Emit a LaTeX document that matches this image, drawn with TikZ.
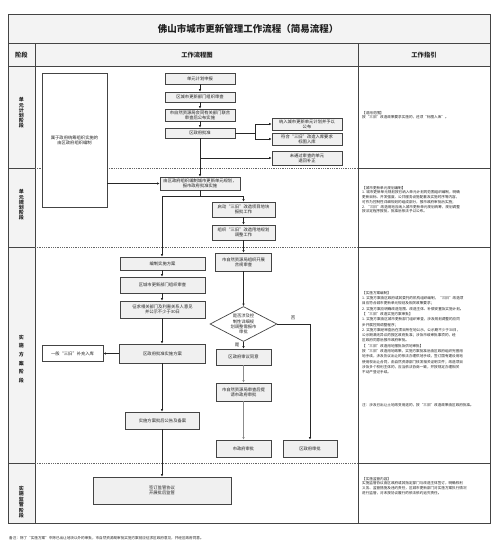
\documentclass[tikz,border=0pt]{standalone}
\usepackage{fontspec}
\setmainfont{Noto Sans CJK SC}
\usetikzlibrary{arrows.meta,shapes.geometric}
\definecolor{ln}{HTML}{444444}
\definecolor{bx}{HTML}{F0F0F0}
\definecolor{hd}{HTML}{F3F3F3}
\definecolor{tx}{HTML}{222222}
\tikzset{
 fbox/.style={draw=ln, fill=bx, line width=0.7pt, inner sep=0pt, align=center, font=\fontsize{4.3}{5.2}\selectfont, text=tx},
 wbox/.style={fbox, fill=white},
 arr/.style={draw=black!85, line width=0.5pt, -{Latex[length=2.6pt,width=2.4pt]}},
 garr/.style={draw=black!45, line width=0.5pt, -{Latex[length=2.6pt,width=2.4pt]}},
 conn/.style={draw=black!85, line width=0.5pt},
 sepline/.style={draw=black!60, line width=0.6pt, dash pattern=on 1pt off 0.8pt},
 gtext/.style={anchor=north west, inner sep=0pt, align=left, font=\fontsize{3.6}{4.7}\selectfont, text=tx},
 stg/.style={inner sep=0pt, align=center, text=tx},
 lbl/.style={inner sep=0pt, font=\fontsize{4.5}{5}\selectfont, text=tx},
}
\begin{document}
\begin{tikzpicture}[x=1pt,y=-1pt]
\useasboundingbox (0,0) rectangle (499,554);
\fill[white] (0,0) rectangle (499,554);
% table backgrounds
\fill[hd] (8,14) rectangle (490,66);
\fill[hd] (8,66) rectangle (35,523);
% table lines
\draw[ln, line width=0.7pt] (8,43) -- (490,43);
\draw[ln, line width=0.7pt] (8,66) -- (490,66);
\draw[ln, line width=1pt] (35,43) -- (35,523);
\draw[ln, line width=0.7pt] (358,43) -- (358,523);
\foreach \yy in {168,247,463}{
  \draw[ln, line width=1pt] (8,\yy) -- (35,\yy);
  \draw[ln, line width=0.7pt] (358,\yy) -- (490,\yy);
  \draw[sepline] (35,\yy) -- (358,\yy);
}
\draw[ln, line width=1pt] (8,14) rectangle (490,523);

% title and headers
\node[stg, font=\bfseries\fontsize{9.5}{10}\selectfont] (title) at (248,29) {佛山市城市更新管理工作流程（简易流程）};
\node[stg, font=\bfseries\fontsize{6.3}{7}\selectfont] (h1) at (21.5,55) {阶段};
\node[stg, font=\bfseries\fontsize{6.3}{7}\selectfont] (h2) at (197,55) {工作流程图};
\node[stg, font=\bfseries\fontsize{6.3}{7}\selectfont] (h3) at (424,55) {工作指引};

% stage labels
\node[stg, font=\bfseries\fontsize{5}{5.2}\selectfont] (s1) at (21.5,113) {单\\元\\计\\划\\阶\\段};
\node[stg, font=\bfseries\fontsize{5}{5.2}\selectfont] (s2) at (21.5,205) {单\\元\\规\\划\\阶\\段};
\node[stg, font=\bfseries\fontsize{5}{8.7}\selectfont] (s3) at (21.5,359) {实\\施\\方\\案\\阶\\段};
\node[stg, font=\bfseries\fontsize{5}{5.4}\selectfont] (s4) at (21.5,502) {实\\施\\监\\管\\阶\\段};

% stage 1 boxes
\node[wbox, minimum width=65pt, minimum height=134pt] (L0) at (74.5,140) {属于政府统筹组织实施的\\由区政府组织编制};
\node[fbox, minimum width=70pt, minimum height=11pt] (B1) at (200,78.5) {单元计划申报};
\node[fbox, minimum width=70pt, minimum height=10pt] (B2) at (200,97) {区城市更新部门组织审查};
\node[fbox, minimum width=70pt, minimum height=12pt] (B3) at (200,115) {市自然资源局会同有关部门联合\\审查后公布实施};
\node[fbox, minimum width=70pt, minimum height=10pt] (B4) at (200,133) {区政府批准};
\node[fbox, minimum width=70pt, minimum height=12pt] (R1) at (307,124) {纳入城市更新单元计划并予以\\公布};
\node[fbox, minimum width=70pt, minimum height=12pt] (R2) at (307,139) {符合“三旧”改造入库要求\\标图入库};
\node[fbox, minimum width=70pt, minimum height=14pt] (R3) at (307,158) {未通过审查的单元\\退回补正};

% stage 2 boxes
\node[fbox, minimum width=80pt, minimum height=13pt] (P1) at (200,183.5) {由区政府组织编制城市更新单元规划，\\报市政府批准实施};
\node[fbox, minimum width=63pt, minimum height=15pt] (P2) at (243.5,209.5) {启动“三旧”改造项目地块\\报批工作};
\node[fbox, minimum width=63pt, minimum height=15pt] (P3) at (243.5,232.5) {组织“三旧”改造用地规划\\调整工作};

% stage 3 boxes
\node[fbox, minimum width=85pt, minimum height=13pt] (A1) at (162.5,263.5) {编制实施方案};
\node[fbox, minimum width=85pt, minimum height=16pt] (A2) at (162.5,285) {区城市更新部门组织审查};
\node[fbox, minimum width=85pt, minimum height=17pt] (A3) at (162.5,309.5) {征求相关部门及利害关系人意见\\并公示不少于30日};
\node[fbox, minimum width=86pt, minimum height=19pt] (A4) at (162.5,353.5) {区政府批准实施方案};
\node[wbox, minimum width=61pt, minimum height=16pt] (L) at (72.5,353.5) {一般“三旧”补充入库};
\node[fbox, minimum width=74pt, minimum height=17pt] (A5) at (162.5,420.5) {实施方案批后公告及备案};
\node[fbox, minimum width=56pt, minimum height=18pt] (Q1) at (243.5,262) {市自然资源局组织开展\\合规审查};
\node[diamond, draw=ln, fill=white, line width=0.7pt, inner sep=0pt, aspect=1.9, minimum width=67pt, minimum height=35pt, align=center, font=\fontsize{4.3}{5.2}\selectfont, text=tx] (Dm) at (243.5,324) {是否涉及控\\制性详细规\\划调整需报市\\审批};
\node[fbox, minimum width=55pt, minimum height=16pt] (C1) at (243.5,357) {区政府审议同意};
\node[fbox, minimum width=55pt, minimum height=18pt] (C2) at (243.5,392) {市自然资源局审查后提\\请市政府审批};
\node[fbox, minimum width=55pt, minimum height=17pt] (C3) at (243.5,448.5) {市政府审批};
\node[fbox, minimum width=54pt, minimum height=17pt] (D) at (310,448.5) {区政府审批};

% stage 4 box
\node[fbox, minimum width=138pt, minimum height=27pt] (M) at (162,490.5) {签订监管协议\\开展批后监管};

% connectors stage 1
\draw[arr] (B1) -- (B2);
\draw[arr] (B2) -- (B3);
\draw[arr] (B3) -- (B4);
\coordinate (j1) at (255,133);
\draw[conn] (B4.east) -- (j1);
\draw[arr] (j1) |- (R1.west);
\draw[arr] (j1) |- (R2.west);
\draw[arr] (B4) -- (P1);
\coordinate (j2) at (200,158);
\draw[arr] (j2) -- (R3.west);
\draw[arr] (L0.east |- P1.west) -- (P1.west);

% connectors stage 2
\coordinate (bus) at (200,196);
\coordinate (busL) at (162,196);
\coordinate (busR) at (243.5,196);
\draw[conn] (P1.south) -- (bus);
\draw[conn] (busL) -- (busR);
\draw[arr] (busL) -- (busL |- A1.north);
\draw[arr] (busR) -- (P2.north);
\draw[arr] (P2) -- (P3);
\draw[arr] (P3) -- (Q1);

% connectors stage 3
\coordinate (ax) at (162,0);
\draw[arr] (ax |- A1.south) -- (ax |- A2.north);
\draw[arr] (ax |- A2.south) -- (ax |- A3.north);
\draw[arr] (ax |- A3.south) -- (ax |- A4.north);
\draw[arr] (A4.west) -- (L.east);
\draw[arr] (ax |- A4.south) -- (ax |- A5.north);
\draw[arr] (ax |- A5.south) -- (M.north);
\draw[arr] (Q1) -- (Dm);
\draw[arr] (Dm.south) -- (C1.north);
\node[lbl] (yes) at (237,345) {是};
\draw[garr] (C1) -- (C2);
\draw[garr] (C2) -- (C3);
\draw[arr] (Dm.east) -| (D.north);
\node[lbl] (no) at (293,318) {否};

% guide texts
\node[gtext] (g1) at (362,111) {【适用范围】\\按“三旧”改造政策要求实施的，还须“标图入库”。};
\node[gtext] (g2) at (362,186) {【城市更新单元规划编制】\\
1. 城市更新单元规划按已纳入单元计划的范围组织编制，明确\\
更新目标、开发强度、公共服务设施配套及实施时序等内容，\\
可作为控制性详细规划的组成部分，报市政府审批后实施；\\
2. “三旧”改造用地应纳入城市更新单元规划统筹，规划调整\\
按法定程序报批，批准后依法予以公布。};
\node[gtext, font=\fontsize{3.6}{5.3}\selectfont] (g3) at (362,291) {【实施方案编制】\\
1. 实施方案由区政府或其委托的机构组织编制，“三旧”改造项\\
目应符合城市更新单元规划及相关政策要求；\\
2. 实施方案应明确改造范围、改造主体、补偿安置及实施计划。\\
【“三旧”改造实施方案审批】\\
1. 实施方案由区城市更新部门组织审查，涉及规划调整的应同\\
步开展控规调整程序；\\
2. 实施方案经审查后在项目所在地公示，公示期不少于30日，\\
公示期满无异议的报区政府批准；涉及市级审批事项的，经\\
区政府同意后报市政府审批。\\
【“三旧”改造用地报批及供地审批】\\
按“三旧”改造用地政策，实施方案批准后由区政府组织完善用\\
地手续，涉及协议出让的依法办理供地手续，签订国有建设用地\\
使用权出让合同，由自然资源部门核发相关证明文件；改造项目\\
涉及多个权利主体的，应当依法协商一致，并按规定办理相关\\
不动产登记手续。};
\node[gtext] (g4) at (362,403) {注：涉及已出让土地改变用途的，按“三旧”改造政策由区政府批准。};
\node[gtext] (g5) at (362,477) {【实施监管内容】\\
实施监管协议由区政府或其指定部门与改造主体签订，明确权利\\
义务、监管措施及违约责任，区城市更新部门对实施方案执行情况\\
进行监管，对未按协议履行的依法依约追究责任。};
\node[gtext, anchor=west] (foot) at (9,538) {备注：除了“实施方案”中除已出让地块以外的审批，市自然资源局审批实施方案前应征求区政府意见，并经区政府同意。};
\end{tikzpicture}
\end{document}
